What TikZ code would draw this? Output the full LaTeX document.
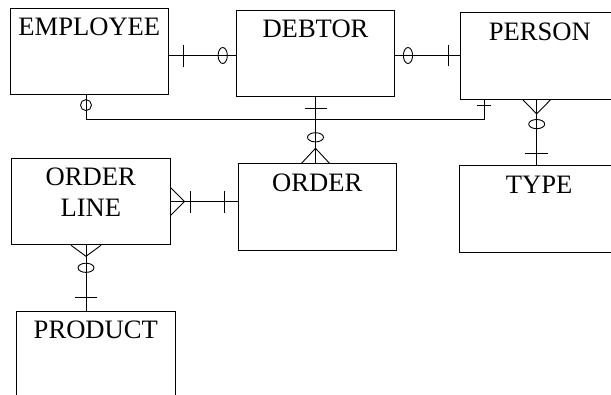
\documentclass[tikz,border=0pt]{standalone}
\usepackage{fontspec}
\setmainfont{Liberation Serif}
\usetikzlibrary{calc}
\begin{document}
\begin{tikzpicture}[x=1pt,y=-1pt,
  entity/.style={draw, line width=1.1pt, minimum width=158.5pt, minimum height=86.5pt,
    inner sep=0pt, anchor=north west},
  title/.style={anchor=north, inner sep=0pt, yshift=-10.4pt,
    font=\fontsize{26.6}{31}\selectfont, align=center},
  link/.style={line width=0.9pt},
  % cardinality marks, drawn for a vertical connector; rotate for horizontal ones
  pics/crossbar/.style={code={\draw[link] (-#1,0) -- (#1,0);}},
  pics/ringmark/.style={code={\draw[link] (0,0) ellipse [x radius=8, y radius=4.6];}},
  pics/crowfoot/.style args={#1/#2}{code={\draw[link] (-#1,0) -- (0,-#2) -- (#1,0);}},
]
\useasboundingbox (0,0) rectangle (611,394);
\clip (0,0) rectangle (611,394);

% entities
\node[entity, label={[title]north:EMPLOYEE}] (emp)  at (9.5,7.5)    {};
\node[entity, label={[title]north:DEBTOR}]   (deb)  at (235.7,9.5)  {};
\node[entity, label={[title]north:PERSON}]   (per)  at (460,12)     {};
\node[entity, label={[title]north:ORDER\\LINE}] (ol) at (11,157.7)  {};
\node[entity, label={[title]north:ORDER}]    (ord)  at (237.5,163.3) {};
\node[entity, label={[title]north:TYPE}]     (typ)  at (459.3,165.3) {};
\node[entity, label={[title]north:PRODUCT}]  (prod) at (16,310.7)   {};

% helper rows and columns for the connectors
\coordinate (row)  at (0,55.5);
\coordinate (bus)  at (0,119);
\coordinate (colA) at (86,0);
\coordinate (colB) at (484,0);
\coordinate (colC) at (536.7,0);

% EMPLOYEE -- DEBTOR
\draw[link] (emp.east |- row) -- (deb.west |- row);
\pic[rotate=90] at ($(emp.east |- row)+(14,0)$) {crossbar=11};
\pic[rotate=90] at ($(deb.west |- row)+(-13,0)$) {ringmark};

% DEBTOR -- PERSON
\draw[link] (deb.east |- row) -- (per.west |- row);
\pic[rotate=90] at ($(deb.east |- row)+(12.7,0)$) {ringmark};
\pic[rotate=90] at ($(per.west |- row)+(-12,0)$) {crossbar=10.5};

% EMPLOYEE -- PERSON
\draw[link] (emp.south -| colA) -- (colA |- bus) -- (colB |- bus) -- (per.south -| colB);
\draw[link] ($(emp.south -| colA)+(0,10)$) circle [radius=5.5];
\pic at ($(per.south -| colB)+(0,5.5)$) {crossbar=7};

% DEBTOR -- ORDER
\draw[link] (deb.south) -- (deb.south |- ord.north);
\pic at ($(deb.south)+(0,11)$) {crossbar=11};
\pic at ($(deb.south |- ord.north)+(0,-26)$) {ringmark};
\pic at (deb.south |- ord.north) {crowfoot=14/15};

% ORDER LINE -- ORDER
\draw[link] (ol.east) -- (ol.east -| ord.west);
\pic[rotate=-90] at (ol.east) {crowfoot=14/14};
\pic[rotate=90] at ($(ol.east)+(20,0)$) {crossbar=11};
\pic[rotate=90] at ($(ol.east -| ord.west)+(-13.5,0)$) {crossbar=11};

% ORDER LINE -- PRODUCT
\draw[link] (ol.south -| colA) -- (prod.north -| colA);
\pic[rotate=180] at (ol.south -| colA) {crowfoot=15/11};
\pic at ($(ol.south -| colA)+(0,22.5)$) {ringmark};
\pic at ($(prod.north -| colA)+(0,-13.4)$) {crossbar=11};

% PERSON -- TYPE
\draw[link] (per.south -| colC) -- (typ.north -| colC);
\pic[rotate=180] at (per.south -| colC) {crowfoot=14/14.3};
\pic at ($(per.south -| colC)+(0,24.5)$) {ringmark};
\pic at ($(typ.north -| colC)+(0,-12)$) {crossbar=11.5};
\end{tikzpicture}
\end{document}
